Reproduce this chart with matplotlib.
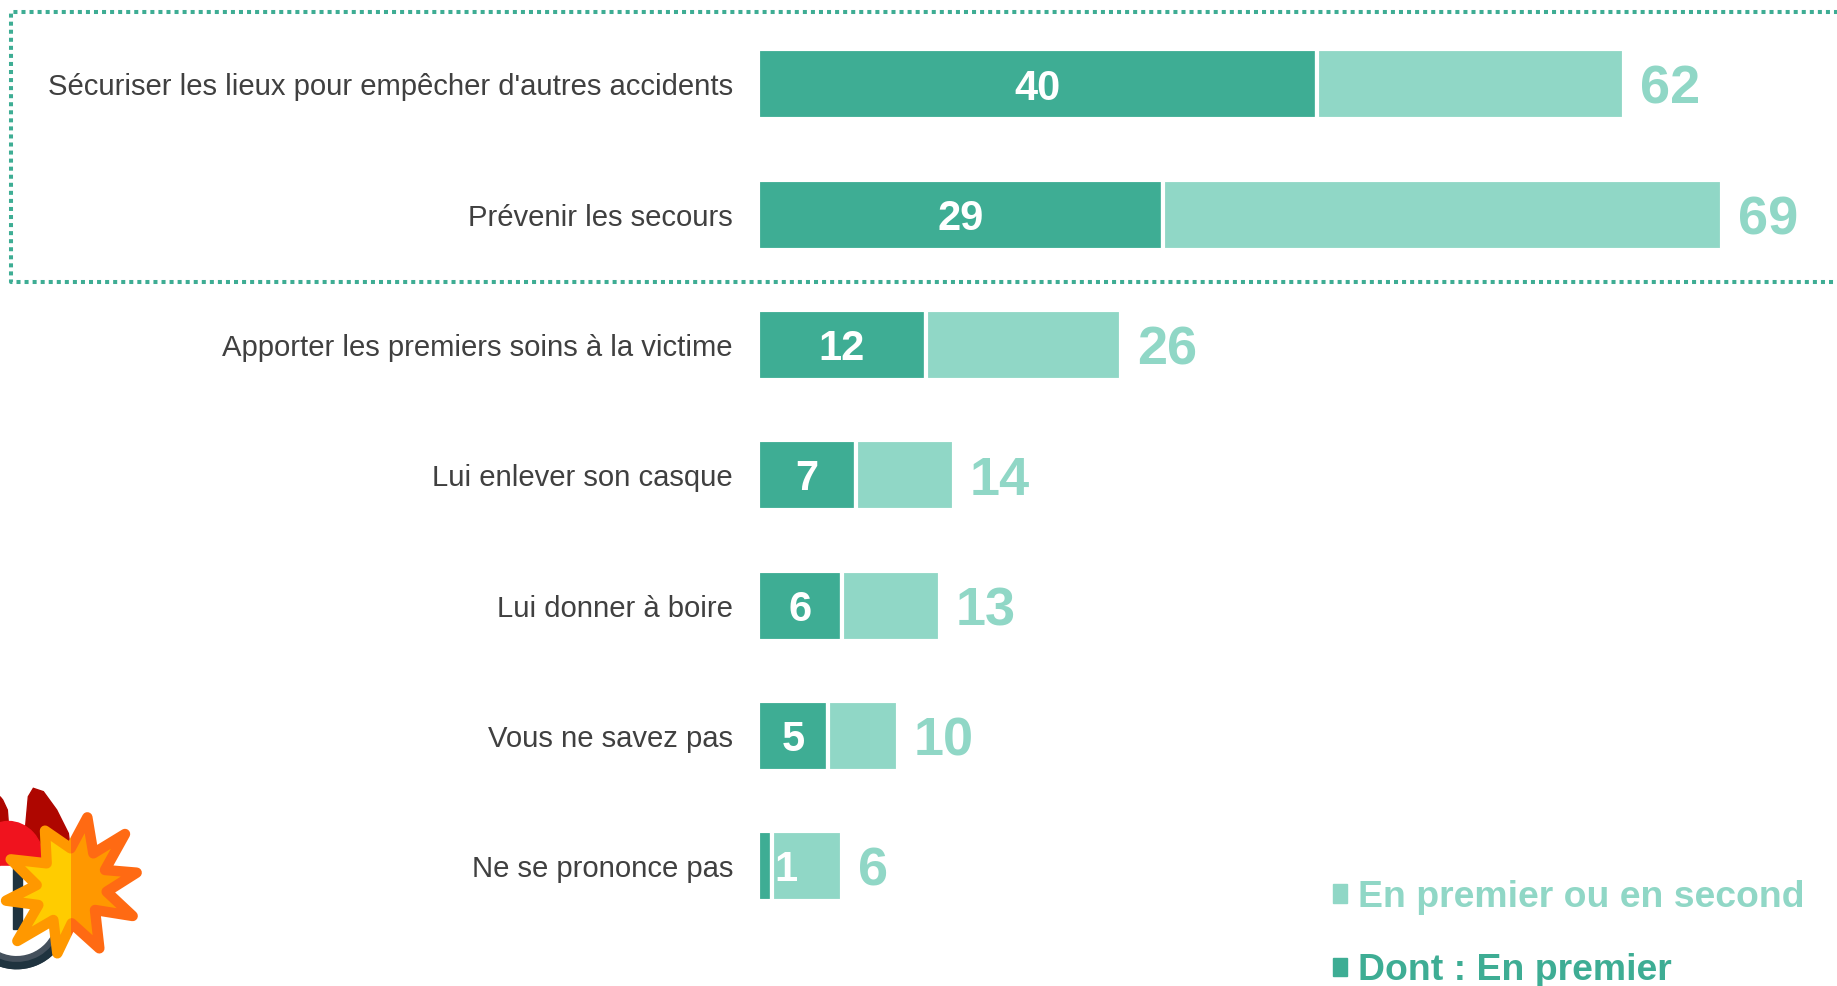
import numpy as np
import matplotlib
matplotlib.use("Agg")
import matplotlib.pyplot as plt
from matplotlib.patches import Patch, Polygon, Rectangle, Wedge, Ellipse

plt.rcParams['font.family'] = ['Liberation Sans', 'DejaVu Sans']

categories = [
    "Sécuriser les lieux pour empêcher d'autres accidents",
    "Prévenir les secours",
    "Apporter les premiers soins à la victime",
    "Lui enlever son casque",
    "Lui donner à boire",
    "Vous ne savez pas",
    "Ne se prononce pas",
]
en_premier = [40, 29, 12, 7, 6, 5, 1]
total = [62, 69, 26, 14, 13, 10, 6]
legend_labels = ["En premier ou en second", "Dont : En premier"]

dark = '#3EAD94'
light = '#90D7C6'
W, H = 1837, 986

fig = plt.figure(figsize=(W / 100, H / 100), dpi=100, facecolor='white')

# axe principal : x en valeurs, y en rangs
x0 = 758
unit = 13.97
ax = fig.add_axes([x0 / W, 0, 1 - x0 / W, 1])
ax.set_xlim(0, (W - x0) / unit)
ax.set_ylim((H - 84.4) / 130.3, -84.4 / 130.3)
for s in ax.spines.values():
    s.set_visible(False)
ax.xaxis.set_visible(False)

y = np.arange(len(categories))
prem = np.array(en_premier)
tot = np.array(total)
ax.barh(y, prem, height=0.537, color=dark, edgecolor='white', linewidth=3)
ax.barh(y, tot - prem, left=prem, height=0.537, color=light, edgecolor='white', linewidth=3)

ax.set_yticks(y)
ax.set_yticklabels(categories, fontsize=21.1, color='#404040')
ax.tick_params(axis='y', length=0, pad=18)

for i in y:
    # le 1 ne tient pas dans sa barre, decale a droite
    dx = 15 if prem[i] < 2 else 0
    ax.annotate(str(prem[i]), (prem[i] / 2, i), xytext=(dx, -3), textcoords='offset points',
                ha='center', va='center', fontsize=30, fontweight='bold', color='white')
    ax.annotate(str(tot[i]), (tot[i], i), xytext=(11.5, -4), textcoords='offset points',
                ha='left', va='center', fontsize=39, fontweight='bold', color=light)

handles = [Patch(color=light, label=legend_labels[0]), Patch(color=dark, label=legend_labels[1])]
leg = ax.legend(handles=handles, loc='upper left', bbox_to_anchor=(1333 / W, 1 - 880 / H),
                bbox_transform=fig.transFigure, frameon=False,
                prop={'weight': 'bold', 'size': 26.9}, labelcolor=[light, dark],
                handlelength=0.38, handleheight=0.38, handletextpad=0.3,
                labelspacing=1.03, borderpad=0, borderaxespad=0)

# calque en pixels pour le cadre pointille et le pictogramme
deco = fig.add_axes([0, 0, 1, 1], facecolor='none')
deco.set_xlim(0, W)
deco.set_ylim(H, 0)
deco.axis('off')

deco.plot([W + 5, 11, 11, W + 5], [12, 12, 282, 282], color=dark, lw=2.9,
          linestyle=(0, (1, 1)), clip_on=True)


def zx(x):
    return np.asarray(x, dtype=float) / 3


def zy(yy):
    return 760 + np.asarray(yy, dtype=float) / 3


# casque
deco.add_patch(Wedge((zx(50), zy(470)), 52, -10, 200, width=12, color='#44505C', zorder=2))
deco.add_patch(Wedge((zx(50), zy(470)), 52, 20, 180, width=6, color='#1F333F', zorder=3))
deco.add_patch(Polygon(np.c_[zx([75, 85, 100, 130, 170, 205, 215, 75]), zy([220, 110, 85, 95, 150, 220, 300, 300])],
                       color='#AE0600', zorder=2))
deco.add_patch(Polygon(np.c_[zx([0, 8, 22, 25, 0]), zy([110, 120, 150, 190, 190])], color='#AE0600', zorder=2))
deco.add_patch(Ellipse((zx(25), zy(300)), 70, 77, color='#F0131E', zorder=3))
deco.add_patch(Rectangle((0, zy(318)), 50, 60, color='white', zorder=3))
deco.add_patch(Rectangle((zx(38), zy(320)), 9, 62, color='#1F333F', zorder=3))

# etoile
sx = [262, 280, 375, 315, 410, 320, 398, 285, 298, 215, 172, 160, 52, 115, 18, 110, 32, 140, 135, 212]
sy = [172, 280, 222, 330, 338, 395, 468, 450, 565, 490, 580, 480, 543, 435, 422, 375, 298, 310, 212, 265]
star = np.c_[zx(sx), zy(sy)]
for xa, xb, face, edge in [(-10, zx(212), '#FFCC00', '#FF9800'), (zx(212), 200, '#FF9800', '#FF6A13')]:
    clip = Rectangle((xa, 760), xb - xa, 226, transform=deco.transData)
    p = Polygon(star, closed=True, facecolor=face, edgecolor=edge, lw=7.5, joinstyle='round', zorder=5)
    deco.add_patch(p)
    p.set_clip_path(clip)

fig.savefig('out.png', dpi=100, facecolor='white')
